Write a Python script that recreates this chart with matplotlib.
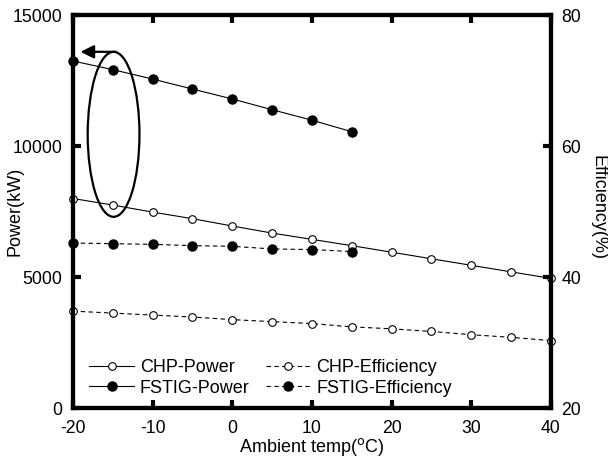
import numpy as np
import matplotlib.pyplot as plt
from matplotlib.patches import Ellipse

plt.rcParams['font.family'] = ['Liberation Sans', 'DejaVu Sans']
plt.rcParams['axes.unicode_minus'] = False

temp_chp = [-20, -15, -10, -5, 0, 5, 10, 15, 20, 25, 30, 35, 40]
temp_fstig = [-20, -15, -10, -5, 0, 5, 10, 15]

chp_power = [8000, 7750, 7480, 7230, 6950, 6680, 6440, 6200, 5950, 5700, 5450, 5200, 4950]
fstig_power = [13250, 12920, 12560, 12180, 11800, 11390, 10990, 10550]
chp_eff = [34.8, 34.5, 34.2, 33.9, 33.5, 33.2, 32.9, 32.4, 32.1, 31.7, 31.2, 30.8, 30.3]
fstig_eff = [45.2, 45.1, 45.0, 44.8, 44.7, 44.3, 44.2, 43.9]

fig = plt.figure(figsize=(6.08, 4.59), dpi=100)
ax = fig.add_axes([0.120, 0.111, 0.786, 0.856])
ax2 = ax.twinx()

open_kw = dict(marker='o', mfc='white', mec='k', ms=5.5, mew=0.8, clip_on=False)
fill_kw = dict(marker='o', mfc='k', mec='k', ms=6.5, clip_on=False)
l1, = ax.plot(temp_chp, chp_power, 'k-', lw=0.8, **open_kw)
l2, = ax.plot(temp_fstig, fstig_power, 'k-', lw=0.8, **fill_kw)
l3, = ax2.plot(temp_chp, chp_eff, 'k--', lw=0.8, dashes=(4, 3), **open_kw)
l4, = ax2.plot(temp_fstig, fstig_eff, 'k--', lw=0.8, dashes=(4, 3), **fill_kw)

ax.set_xlim(-20, 40)
ax.set_ylim(0, 15000)
ax2.set_ylim(20, 80)
ax.set_xticks([-20, -10, 0, 10, 20, 30, 40])
ax.set_yticks([0, 5000, 10000, 15000])
ax2.set_yticks([20, 40, 60, 80])

for a in (ax, ax2):
    for s in a.spines.values():
        s.set_linewidth(3)
    a.tick_params(direction='in', length=6, width=3, labelsize=12.7)
ax.tick_params(axis='x', top=True, pad=8.5)
ax.tick_params(axis='y', pad=7.5)
ax2.tick_params(axis='y', pad=7.5)

ax.set_xlabel('Ambient temp($^\\mathrm{o}$C)', fontsize=13, va='center')
ax.xaxis.set_label_coords(0.5, -0.099)
ax.set_ylabel('Power(kW)', fontsize=13, va='center')
ax.yaxis.set_label_coords(-0.121, 0.5)
ax2.set_ylabel('Efficiency(%)', fontsize=13, rotation=-90, va='center')
ax2.yaxis.set_label_coords(1.098, 0.51)

# ellipse + arrow marking the FSTIG/CHP power curves -> left axis
ax.add_patch(Ellipse((-14.9, 10450), 6.5, 6300, fill=False, ec='k', lw=1.6, zorder=5))
ax.annotate('', xy=(-19.4, 13600), xytext=(-14.3, 13600),
            arrowprops=dict(arrowstyle='-|>', color='k', lw=1.6, mutation_scale=20),
            zorder=5)

ax.legend([l1, l2, l3, l4], ['CHP-Power', 'FSTIG-Power', 'CHP-Efficiency', 'FSTIG-Efficiency'],
          ncol=2, frameon=False, loc='lower left', bbox_to_anchor=(0.0, -0.012),
          handlelength=2.5, handletextpad=0.3, columnspacing=0.9, labelspacing=0.2,
          fontsize=13)

fig.savefig('out.png', dpi=100)
